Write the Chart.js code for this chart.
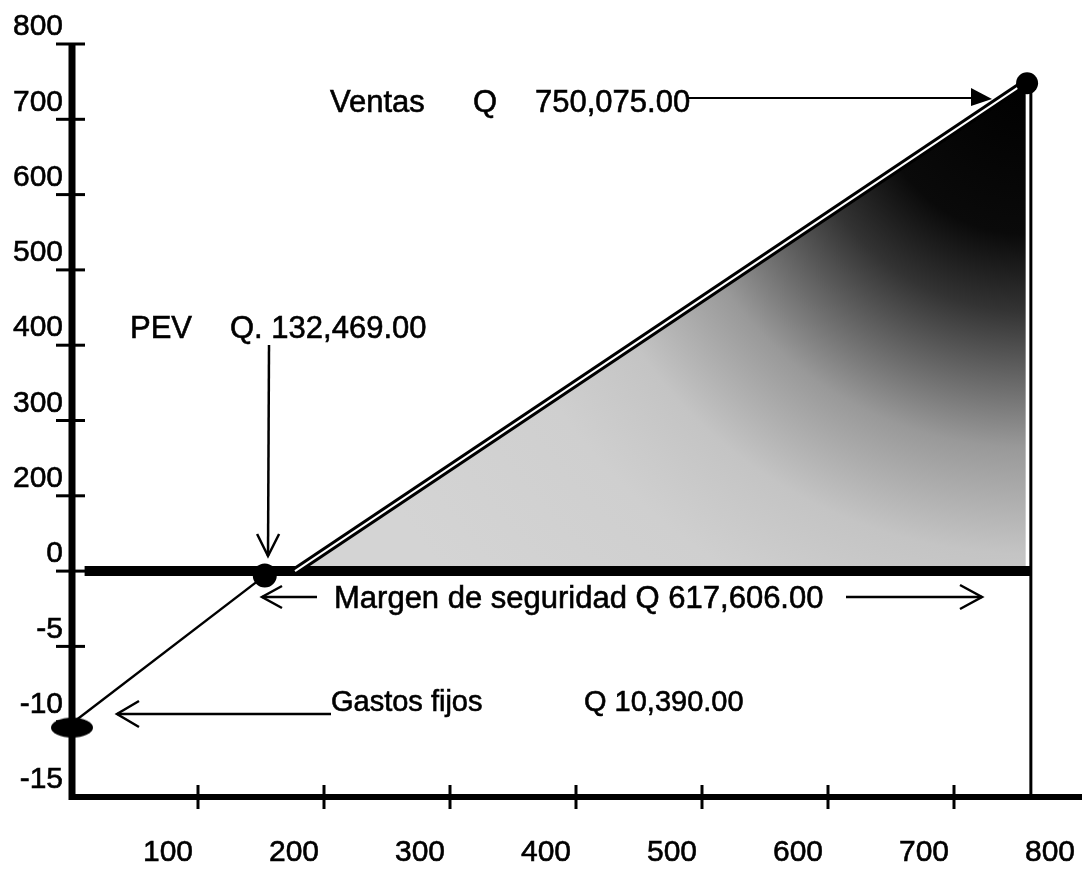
<!DOCTYPE html>
<html>
<head>
<meta charset="utf-8">
<script src="https://cdn.jsdelivr.net/npm/chart.js@4.4.0/dist/chart.umd.min.js"></script>
<style>
  html, body { margin: 0; padding: 0; background: #fff; }
  #wrap { width: 1082px; height: 869px; }
</style>
</head>
<body>
<div id="wrap"><canvas id="pe" width="1082" height="869"></canvas></div>
<script>
// Tick labels of the (non linear) vertical axis, bottom to top
const yTickValues = [-15, -10, -5, 0, 200, 300, 400, 500, 600, 700, 800];
const xTickValues = [100, 200, 300, 400, 500, 600, 700, 800];

// Values (x: ventas, y: utilidad)
const salesX = [177, 757];          // ventas line, from break-even to sales
const salesY = [0, 749];
const costX = [0, 153];             // fixed costs up to the PEV
const costY = [-10.1, -0.3];
const zeroX = [10, 761];            // zero level line
const limitX = [761, 761];          // vertical line at sales volume
const limitY = [745, -15];
const pointX = [758, 153, 0];       // Ventas, PEV, Gastos fijos
const pointY = [748, -0.3, -10.39];

const fontFam = '"Liberation Sans", Arial, sans-serif';

// map a value to its position on the equally spaced tick ladder
function yIdx(v) {
    for (let i = 1; i < yTickValues.length; i++) {
        if (v <= yTickValues[i]) {
            const a = yTickValues[i - 1], b = yTickValues[i];
            return i - 1 + (v - a) / (b - a);
        }
    }
    return yTickValues.length - 1;
}
function pts(xs, ys) {
    return xs.map((x, i) => ({ x: x, y: yIdx(ys[i]) }));
}

// elliptic marker for the fixed cost point
const ell = document.createElement('canvas');
ell.width = 44; ell.height = 22;
const ectx = ell.getContext('2d');
ectx.fillStyle = '#000';
ectx.beginPath();
ectx.ellipse(22, 11, 21, 10, 0, 0, Math.PI * 2);
ectx.fill();

function shade(c) {
    const chart = c.chart;
    if (!chart.chartArea) return '#cfcfcf';
    const cx = chart.scales.x.getPixelForValue(salesX[1]);
    const cy = chart.scales.y.getPixelForValue(yIdx(salesY[1]));
    const g = chart.ctx.createRadialGradient(cx, cy, 0, cx, cy, 760);
    g.addColorStop(0, '#000');
    g.addColorStop(0.2, '#0a0a0a');
    g.addColorStop(0.3, '#333');
    g.addColorStop(0.48, '#999');
    g.addColorStop(0.62, '#c4c4c4');
    g.addColorStop(0.75, '#cfcfcf');
    g.addColorStop(1, '#d4d4d4');
    return g;
}

// axes with ticks crossing the line
const axesPlugin = {
    id: 'axes',
    afterDatasetsDraw(chart) {
        const ctx = chart.ctx, xs = chart.scales.x, ys = chart.scales.y;
        const x0 = xs.getPixelForValue(0);
        const yb = ys.getPixelForValue(0);
        ctx.save();
        ctx.strokeStyle = '#000';
        ctx.lineWidth = 7;
        ctx.beginPath();
        ctx.moveTo(x0, ys.getPixelForValue(yTickValues.length - 1));
        ctx.lineTo(x0, yb + 3);
        ctx.stroke();
        ctx.lineWidth = 6;
        ctx.beginPath();
        ctx.moveTo(x0 - 3, yb);
        ctx.lineTo(chart.width, yb);
        ctx.stroke();
        ctx.lineWidth = 3;
        for (let i = 1; i < yTickValues.length; i++) {
            const y = ys.getPixelForValue(i);
            ctx.beginPath();
            ctx.moveTo(x0 - 16, y);
            ctx.lineTo(x0 + 13, y);
            ctx.stroke();
        }
        xTickValues.slice(0, -1).forEach(v => {
            const x = xs.getPixelForValue(v);
            ctx.beginPath();
            ctx.moveTo(x, yb - 12);
            ctx.lineTo(x, yb + 12);
            ctx.stroke();
        });
        ctx.restore();
    }
};

function arrowOpen(ctx, x1, y1, x2, y2, w, l) {
    const a = Math.atan2(y2 - y1, x2 - x1);
    ctx.beginPath();
    ctx.moveTo(x1, y1);
    ctx.lineTo(x2, y2);
    ctx.stroke();
    ctx.beginPath();
    ctx.moveTo(x2 - l * Math.cos(a) + w * Math.sin(a), y2 - l * Math.sin(a) - w * Math.cos(a));
    ctx.lineTo(x2, y2);
    ctx.lineTo(x2 - l * Math.cos(a) - w * Math.sin(a), y2 - l * Math.sin(a) + w * Math.cos(a));
    ctx.stroke();
}

function heavyText(ctx, s, x, y) {
    ctx.fillText(s, x, y);
    ctx.strokeText(s, x, y);
}

// texts and arrows of the break-even chart
const notesPlugin = {
    id: 'notes',
    afterDraw(chart) {
        const ctx = chart.ctx;
        ctx.save();
        ctx.fillStyle = '#000';
        ctx.strokeStyle = '#000';
        ctx.textBaseline = 'alphabetic';
        ctx.lineWidth = 0.6;
        ctx.font = '31px ' + fontFam;
        heavyText(ctx, 'Ventas', 330, 112);
        heavyText(ctx, 'Q', 473, 112);
        heavyText(ctx, '750,075.00', 535, 112);
        heavyText(ctx, 'PEV', 130, 338);
        heavyText(ctx, 'Q. 132,469.00', 230, 338);
        heavyText(ctx, 'Margen de seguridad Q 617,606.00', 334, 608);
        ctx.font = '29px ' + fontFam;
        heavyText(ctx, 'Gastos fijos', 331, 711);
        heavyText(ctx, 'Q 10,390.00', 584, 711);

        ctx.lineWidth = 2;
        ctx.beginPath();
        ctx.moveTo(688, 98);
        ctx.lineTo(975, 98);
        ctx.stroke();
        ctx.beginPath();
        ctx.moveTo(971, 88);
        ctx.lineTo(992, 99);
        ctx.lineTo(971, 106);
        ctx.closePath();
        ctx.fill();

        ctx.lineWidth = 2.5;
        arrowOpen(ctx, 269, 345, 268, 556, 11, 22);
        arrowOpen(ctx, 317, 597, 262, 597, 11, 20);
        arrowOpen(ctx, 846, 597, 982, 597, 12, 22);
        arrowOpen(ctx, 331, 714, 117, 714, 13, 22);
        ctx.restore();
    }
};

const lineDefaults = { showLine: true, pointRadius: 0, fill: false, tension: 0 };

new Chart(document.getElementById('pe'), {
    type: 'scatter',
    data: {
        datasets: [
            { label: 'Puntos', data: pts(pointX, pointY), showLine: false, clip: false,
              pointStyle: ['circle', 'circle', ell], pointRadius: [11, 12, 22],
              backgroundColor: '#000', borderColor: '#000', borderWidth: 0 },
            Object.assign({ label: 'Ventas (blanco)', data: pts(salesX, salesY),
              borderColor: '#fff', borderWidth: 2 }, lineDefaults),
            Object.assign({ label: 'Ventas', data: pts(salesX, salesY),
              borderColor: '#000', borderWidth: 8 }, lineDefaults),
            Object.assign({ label: 'Cero', data: pts(zeroX, [0, 0]),
              borderColor: '#000', borderWidth: 10 }, lineDefaults),
            Object.assign({ label: 'Limite', data: pts(limitX, limitY),
              borderColor: '#000', borderWidth: 3 }, lineDefaults),
            Object.assign({}, lineDefaults, { label: 'Margen', data: pts(salesX, salesY),
              borderWidth: 0, borderColor: 'rgba(0,0,0,0)', backgroundColor: shade,
              fill: { value: yIdx(0) } }),
            Object.assign({ label: 'Gastos fijos', data: pts(costX, costY),
              borderColor: '#000', borderWidth: 2.5 }, lineDefaults)
        ]
    },
    options: {
        responsive: false,
        animation: false,
        events: [],
        layout: { autoPadding: false, padding: { top: 44, right: 2, left: 0, bottom: 0 } },
        plugins: { legend: { display: false }, tooltip: { enabled: false } },
        scales: {
            x: {
                type: 'linear', min: 0, max: 800,
                afterFit: s => { s.height = 72; s.paddingLeft = 0; s.paddingRight = 0; },
                grid: { display: false, drawTicks: false },
                border: { display: false },
                ticks: {
                    stepSize: 100, color: '#000', padding: 38, labelOffset: -30,
                    maxRotation: 0, autoSkip: false,
                    textStrokeColor: '#000', textStrokeWidth: 0.6,
                    font: { family: fontFam, size: 30 },
                    callback: v => (xTickValues.includes(v) ? String(v) : '')
                }
            },
            y: {
                type: 'linear', min: 0, max: yTickValues.length - 1,
                afterFit: s => { s.width = 72; },
                grid: { display: false, drawTicks: false },
                border: { display: false },
                ticks: {
                    stepSize: 1, color: '#000', padding: 9, labelOffset: -17,
                    textStrokeColor: '#000', textStrokeWidth: 0.6,
                    font: { family: fontFam, size: 30 },
                    callback: v => String(yTickValues[v])
                }
            }
        }
    },
    plugins: [axesPlugin, notesPlugin]
});
</script>
</body>
</html>
